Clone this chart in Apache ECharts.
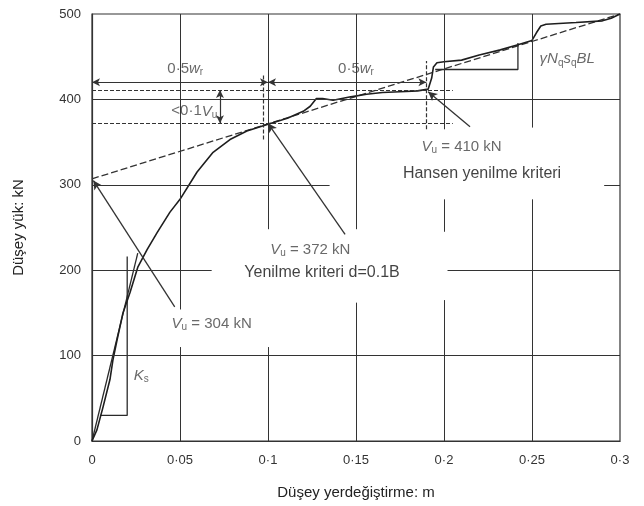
<!DOCTYPE html>
<html>
<head>
<meta charset="utf-8">
<script src="https://cdn.jsdelivr.net/npm/echarts@6/dist/echarts.min.js"></script>
<style>html,body{margin:0;padding:0;background:#fff}#c{width:644px;height:506px}</style>
</head>
<body>
<div id="c"></div>
<script>
// ---- data ----
const xTickLabels = ['0', '0·05', '0·1', '0·15', '0·2', '0·25', '0·3'];
const yTickLabels = ['0', '100', '200', '300', '400', '500'];
const loadCurve = [
  [0, 0], [0.0028, 13], [0.0063, 40], [0.0102, 72], [0.0119, 95], [0.0142, 118],
  [0.0176, 150], [0.0216, 174], [0.0261, 204], [0.0313, 224], [0.037, 244],
  [0.0443, 268], [0.05, 283], [0.0597, 315], [0.0688, 338], [0.0784, 353],
  [0.088, 363], [0.1, 371], [0.111, 378], [0.12, 386], [0.124, 392], [0.1275, 401],
  [0.131, 401], [0.137, 399], [0.147, 403], [0.156, 406], [0.165, 408], [0.175, 409],
  [0.185, 410], [0.191, 412], [0.193, 425], [0.194, 438], [0.196, 443], [0.2, 444],
  [0.21, 446], [0.22, 452], [0.232, 458], [0.242, 464], [0.25, 469], [0.2525, 478],
  [0.255, 486], [0.258, 488], [0.275, 490], [0.29, 492], [0.295, 495], [0.3, 500]
];
const tangentLine = [[0, 0], [0.026, 220]];
const stiffnessStep = [[0.0045, 30], [0.02, 30], [0.02, 216]];
const hansenStep = [[0.195, 435], [0.242, 435], [0.242, 466]];
const asymptote = [[0, 307], [0.3, 500]];
const failureDisp = [0, 0.1, 0.19];
const failureLoad = [304, 372, 410];

// ---- helpers ----
const FONT = 'Liberation Sans';
function seg(a, b) { return [{ coord: a }, { coord: b }]; }
const rich = {
  n: { fontFamily: FONT, fontSize: 15, color: '#444', lineHeight: 17 },
  i: { fontFamily: FONT, fontSize: 15, color: '#444', fontStyle: 'italic', lineHeight: 17 },
  sub: { fontFamily: FONT, fontSize: 10, color: '#444', verticalAlign: 'bottom', lineHeight: 10, padding: [6, 0, 0, 0] },
  b: { fontFamily: FONT, fontSize: 16, color: '#111', lineHeight: 18 }
};
function vu(v) { return '{i|V}{sub|u}{n| = ' + v + ' kN}'; }

const annotations = [
  { value: [0.053, 436], text: '{n|0·5}{i|w}{sub|r}' },
  { value: [0.15, 436], text: '{n|0·5}{i|w}{sub|r}' },
  { value: [0.0712, 386], text: '{n|<0·1}{i|V}{sub|u}', align: 'right' },
  { value: [0.21, 344], text: vu(failureLoad[2]) },
  { value: [0.2216, 313], text: '{b|Hansen yenilme kriteri}' },
  { value: [0.124, 224], text: vu(failureLoad[1]) },
  { value: [0.1307, 197], text: '{b|Yenilme kriteri d=0.1B}' },
  { value: [0.068, 137], text: vu(failureLoad[0]) },
  { value: [0.028, 76], text: '{i|K}{sub|s}' },
  { value: [0.27, 447], text: '{i|γN}{sub|q}{i|s}{sub|q}{i|BL}' }
];

const gridSegments = [
  seg([0, 100], [0.3, 100]),
  seg([0, 200], [0.068, 200]), seg([0.202, 200], [0.3, 200]),
  seg([0, 300], [0.135, 300]), seg([0.291, 300], [0.3, 300]),
  seg([0, 400], [0.3, 400]),
  seg([0.05, 0], [0.05, 110]), seg([0.05, 154], [0.05, 500]),
  seg([0.1, 0], [0.1, 110]), seg([0.1, 248], [0.1, 500]),
  seg([0.15, 0], [0.15, 162]), seg([0.15, 248], [0.15, 500]),
  seg([0.2, 0], [0.2, 165]), seg([0.2, 245], [0.2, 283]), seg([0.2, 365], [0.2, 500]),
  seg([0.25, 0], [0.25, 283]), seg([0.25, 367], [0.25, 500])
];

const dashedGuides = [
  seg([0, failureLoad[2] + 1], [0.205, failureLoad[2] + 1]),
  seg([0, failureLoad[1]], [0.205, failureLoad[1]]),
  seg([0.0975, 353], [0.0975, 430]),
  seg([failureDisp[2], 365], [failureDisp[2], 445])
];
const arrowGuides = [
  seg([0, 420], [failureDisp[1], 420]),
  seg([failureDisp[1], 420], [failureDisp[2], 420]),
  seg([0.0727, failureLoad[1]], [0.0727, failureLoad[2] + 1])
];
const pointers = [
  seg([0.047, 157], [failureDisp[0] + 0.0008, failureLoad[0] + 1]),
  seg([0.1438, 242], [failureDisp[1], failureLoad[1]]),
  seg([0.2148, 368], [failureDisp[2] + 0.001, failureLoad[2] - 1])
];

const lineColor = '#2a2a2a';
function helper(name, lines, style, symbol, symbolSize) {
  return {
    name, type: 'line', data: [], silent: true,
    markLine: {
      silent: true, animation: false, symbol, symbolSize,
      label: { show: false }, emphasis: { disabled: true },
      lineStyle: style, data: lines
    }
  };
}

const chart = echarts.init(document.getElementById('c'));
chart.setOption({
  animation: false,
  backgroundColor: '#fff',
  grid: { left: 92, right: 24, top: 14, bottom: 65, show: true, borderColor: '#333', borderWidth: 1.2 },
  xAxis: {
    type: 'value', min: 0, max: 0.3, interval: 0.05,
    name: 'Düşey yerdeğiştirme: m', nameLocation: 'middle', nameGap: 44,
    nameTextStyle: { fontFamily: FONT, fontSize: 15, color: '#222' },
    axisLine: { lineStyle: { color: '#333', width: 1.2 } },
    axisTick: { show: false },
    splitLine: { show: false },
    axisLabel: { margin: 13, fontFamily: FONT, fontSize: 13, color: '#333',
      formatter: v => xTickLabels[Math.round(v / 0.05)] }
  },
  yAxis: {
    type: 'value', min: 0, max: 500, interval: 100,
    name: 'Düşey yük: kN', nameLocation: 'middle', nameGap: 66,
    nameTextStyle: { fontFamily: FONT, fontSize: 15, color: '#222' },
    axisLine: { lineStyle: { color: '#333', width: 1.2 } },
    axisTick: { show: false },
    splitLine: { show: false },
    axisLabel: { margin: 11, fontFamily: FONT, fontSize: 13, color: '#333',
      formatter: v => yTickLabels[Math.round(v / 100)] }
  },
  series: [
    helper('grid', gridSegments, { color: '#333', width: 1, type: 'solid' }, ['none', 'none'], 0),
    helper('dashed', dashedGuides, { color: '#333', width: 1.2, type: [4, 2] }, ['none', 'none'], 0),
    helper('arrows', arrowGuides, { color: '#333', width: 1.2, type: 'solid' }, ['arrow', 'arrow'], [6, 8]),
    helper('pointers', pointers, { color: '#333', width: 1.3, type: 'solid' }, ['none', 'arrow'], [7, 9]),
    { name: 'asymptote', type: 'line', data: asymptote, showSymbol: false, silent: true,
      lineStyle: { color: '#333', width: 1.3, type: [7, 3] } },
    { name: 'tangent', type: 'line', data: tangentLine, showSymbol: false, silent: true,
      lineStyle: { color: lineColor, width: 1.3 } },
    { name: 'ks', type: 'line', data: stiffnessStep, showSymbol: false, silent: true,
      lineStyle: { color: lineColor, width: 1.3 } },
    { name: 'hansenStep', type: 'line', data: hansenStep, showSymbol: false, silent: true,
      lineStyle: { color: lineColor, width: 1.3 } },
    { name: 'curve', type: 'line', data: loadCurve, showSymbol: false, silent: true,
      lineStyle: { color: '#1e1e1e', width: 1.6 } },
    { name: 'labels', type: 'scatter', symbolSize: 0, silent: true,
      data: annotations.map(a => ({
        value: a.value,
        label: { show: true, position: 'inside', formatter: a.text, rich,
          align: a.align || 'center', verticalAlign: 'middle' }
      })) }
  ]
});
</script>
</body>
</html>
